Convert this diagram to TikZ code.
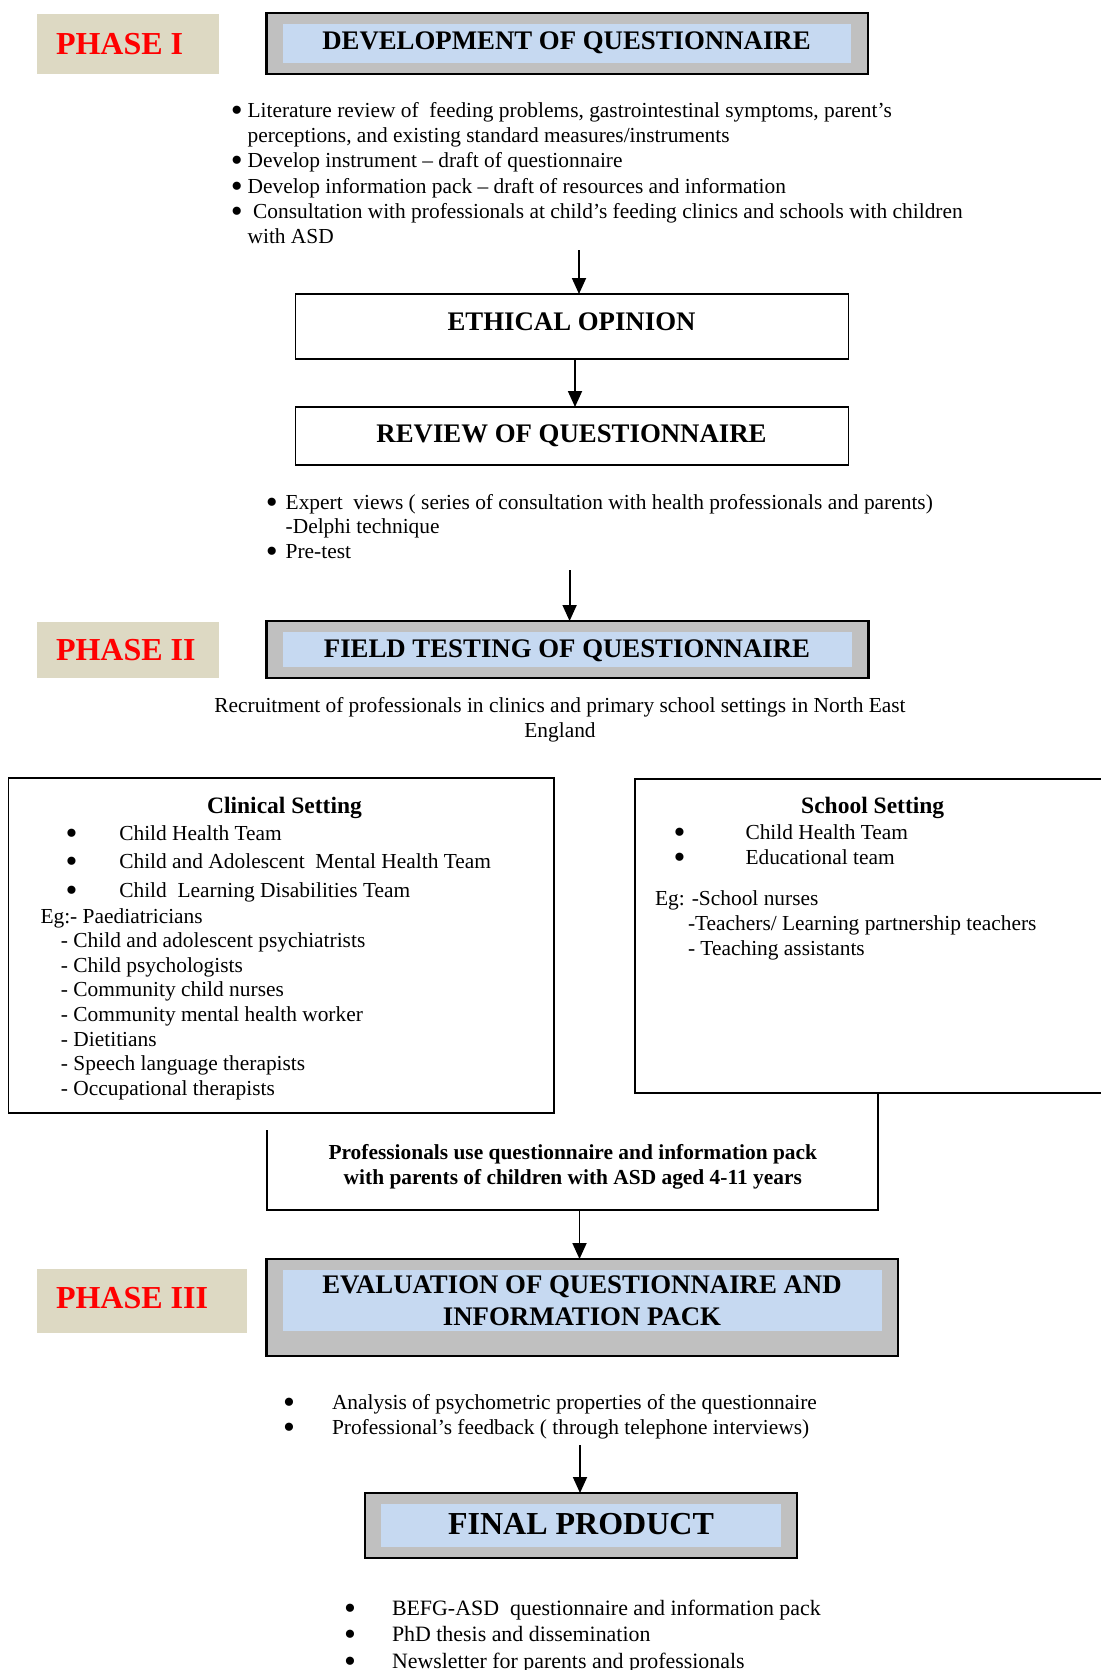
\documentclass[tikz,border=0pt]{standalone}
\usepackage{fontspec}
\setmainfont{Liberation Serif}
\usetikzlibrary{arrows.meta}

\definecolor{phasebg}{HTML}{DDD9C3}
\definecolor{titlegray}{HTML}{C0C0C0}
\definecolor{titleblue}{HTML}{C6D9F1}
\definecolor{phasered}{HTML}{FF0000}

\newcommand\fsz[2]{\fontsize{#1}{#2}\selectfont}
% left-aligned and centred line stacks whose baseline is the first line
\newcommand\leftlines[1]{\begin{tabular}[t]{@{}l@{}}#1\end{tabular}}
\newcommand\midlines[1]{\begin{tabular}[t]{@{}c@{}}#1\end{tabular}}
% large bullet in a box of given width, and a hanging indent of the same width
\newcommand\bul[1]{\makebox[#1][l]{\smash{\raisebox{-4.2pt}{\fontsize{34}{34}\selectfont•}}}}
\newcommand\hang[1]{\hspace*{#1}}

\begin{document}
\begin{tikzpicture}[x=1pt,y=-1pt,
  every node/.style={inner sep=0pt, outer sep=0pt},
  plainbox/.style={draw, line width=1.8pt, anchor=north west},
  graybox/.style={draw, line width=2.4pt, fill=titlegray, anchor=north west},
  bluebox/.style={fill=titleblue, anchor=north west},
  phasebox/.style={fill=phasebg, anchor=north west},
  phasetext/.style={anchor=west, text=phasered, font=\fsz{32}{36}\bfseries},
  headtext/.style={anchor=base, font=\fsz{26.8}{32}\bfseries},
  arr/.style={line width=1.8pt, -{Triangle[length=16pt,width=14pt]}},
  frame/.style={line width=1.8pt},
]
\useasboundingbox (0,0) rectangle (1100,1670);

% ---------------- Phase I ----------------
\node[phasebox, minimum width=181.7pt, minimum height=60pt] (ph1) at (37.2,14) {};
\node[phasetext] (ph1t) at (56,44) {PHASE I};

\node[graybox, minimum width=601.2pt, minimum height=61pt] (dev) at (266.6,13) {};
\node[bluebox, minimum width=568.3pt, minimum height=39pt] (devin) at (282.7,24) {};
\node[headtext] (devt) at (566.5,49.5) {DEVELOPMENT OF QUESTIONNAIRE};

\node[anchor=base west, font=\fsz{21.4}{25.4}] (lit) at (230.9,117) {\leftlines{%
  \bul{16.7pt}Literature review of\ \ feeding problems, gastrointestinal symptoms, parent’s\\
  \hang{16.7pt}perceptions, and existing standard measures/instruments\\
  \bul{16.7pt}Develop instrument – draft of questionnaire\\
  \bul{16.7pt}Develop information pack – draft of resources and information\\
  \bul{16.7pt}\hspace{5.5pt}Consultation with professionals at child’s feeding clinics and schools with children\\
  \hang{16.7pt}with ASD}};

\coordinate (a1) at (579,250);
\node[plainbox, minimum width=553pt, minimum height=65pt] (ethical) at (295.5,294) {};
\node[headtext] (ethicalt) at (571.5,330) {ETHICAL OPINION};
\draw[arr] (a1) -- (a1 |- ethical.north);

\node[plainbox, minimum width=553pt, minimum height=58pt] (review) at (295.5,407) {};
\node[headtext] (reviewt) at (571.5,442) {REVIEW OF QUESTIONNAIRE};
\draw[arr] ([xshift=3pt]ethical.south) -- ([xshift=3pt]review.north);

\node[anchor=base west, font=\fsz{21.4}{24.5}] (rev) at (265.9,509) {\leftlines{%
  \bul{19.8pt}Expert\ \ views ( series of consultation with health professionals and parents)\\
  \hang{19.8pt}-Delphi technique\\
  \bul{19.8pt}Pre-test}};

% ---------------- Phase II ----------------
\coordinate (a3) at (569.6,570);
\node[phasebox, minimum width=181.7pt, minimum height=56pt] (ph2) at (37.2,622) {};
\node[phasetext] (ph2t) at (56,650) {PHASE II};

\node[graybox, minimum width=602pt, minimum height=57pt] (field) at (266.6,621) {};
\node[bluebox, minimum width=569pt, minimum height=35pt] (fieldin) at (282.7,632) {};
\node[headtext] (fieldt) at (567,657) {FIELD TESTING OF QUESTIONNAIRE};
\draw[arr] (a3) -- (a3 |- field.north);

\node[anchor=base, font=\fsz{21.4}{25}] (recruit) at (560,712) {\midlines{%
  Recruitment of professionals in clinics and primary school settings in North East\\
  England}};

% clinical setting
\node[plainbox, minimum width=545.8pt, minimum height=335pt] (clinic) at (8.4,778) {};
\node[anchor=base, font=\fsz{23.5}{28}\bfseries] (clinict) at (284.5,813) {Clinical Setting};
\node[anchor=base west, font=\fsz{21.4}{28.5}] (clinicteams) at (65.5,840) {\leftlines{%
  \bul{53.8pt}Child Health Team\\
  \bul{53.8pt}Child and Adolescent\ \ Mental Health Team\\
  \bul{53.8pt}Child\ \ Learning Disabilities Team}};
\node[anchor=base west, font=\fsz{21.4}{24.6}] (clinicstaff) at (40.5,923) {\leftlines{%
  Eg:- Paediatricians\\
  \hang{20.5pt}- Child and adolescent psychiatrists\\
  \hang{20.5pt}- Child psychologists\\
  \hang{20.5pt}- Community child nurses\\
  \hang{20.5pt}- Community mental health worker\\
  \hang{20.5pt}- Dietitians\\
  \hang{20.5pt}- Speech language therapists\\
  \hang{20.5pt}- Occupational therapists}};

% school setting
\node[plainbox, minimum width=475pt, minimum height=314pt] (school) at (635,779) {};
\node[anchor=base, font=\fsz{23.5}{28}\bfseries] (schoolt) at (872.7,813) {School Setting};
\node[anchor=base west, font=\fsz{21.4}{25}] (schoolteams) at (673.5,839) {\leftlines{%
  \bul{72pt}Child Health Team\\
  \bul{72pt}Educational team}};
\node[anchor=base west, font=\fsz{21.4}{25}] (schoolstaff) at (655,905) {\leftlines{%
  Eg: -School nurses\\
  \hang{33pt}-Teachers/ Learning partnership teachers\\
  \hang{33pt}- Teaching assistants}};

% use of the pack with parents
\coordinate (pl) at (266.6,1130);
\coordinate (pr) at (878,1210);
\draw[frame] (pl) |- (pr) -- (pr |- school.south);
\node[anchor=base, font=\fsz{21.4}{25}\bfseries] (prof) at (572.8,1159) {\midlines{%
  Professionals use questionnaire and information pack\\
  with parents of children with ASD aged 4-11 years}};

% ---------------- Phase III ----------------
\coordinate (a4) at (579.5,1210);
\node[phasebox, minimum width=209.7pt, minimum height=64pt] (ph3) at (37.2,1269) {};
\node[phasetext] (ph3t) at (56,1298) {PHASE III};

\node[graybox, minimum width=631.4pt, minimum height=97pt] (eval) at (266.6,1259) {};
\node[bluebox, minimum width=599pt, minimum height=61pt] (evalin) at (282.7,1270) {};
\node[anchor=base, font=\fsz{26.8}{32}\bfseries] (evalt) at (582,1293) {\midlines{%
  EVALUATION OF QUESTIONNAIRE AND\\
  INFORMATION PACK}};
\draw[arr] (a4) -- (a4 |- eval.north);

\node[anchor=base west, font=\fsz{21.4}{25}] (analysis) at (283,1409) {\leftlines{%
  \bul{49pt}Analysis of psychometric properties of the questionnaire\\
  \bul{49pt}Professional’s feedback ( through telephone interviews)}};

\coordinate (a5) at (580,1445);
\node[graybox, minimum width=432pt, minimum height=65pt] (final) at (365,1493) {};
\node[bluebox, minimum width=400pt, minimum height=43pt] (finalin) at (381,1504) {};
\node[anchor=base, font=\fsz{32}{36}\bfseries] (finalt) at (581,1534) {FINAL PRODUCT};
\draw[arr] (a5) -- (a5 |- final.north);

\node[anchor=base west, font=\fsz{21.9}{26.5}] (outputs) at (344,1615) {\leftlines{%
  \bul{48pt}BEFG-ASD\ \ questionnaire and information pack\\
  \bul{48pt}PhD thesis and dissemination\\
  \bul{48pt}Newsletter for parents and professionals}};

\end{tikzpicture}
\end{document}
